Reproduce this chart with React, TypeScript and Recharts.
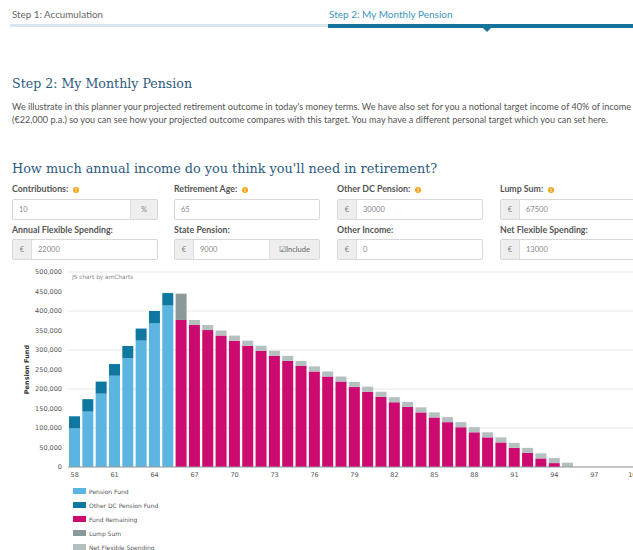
import { BarChart, Bar, XAxis, YAxis, CartesianGrid } from 'recharts';

const ages = [
  58, 59, 60, 61, 62, 63, 64, 65, 66, 67, 68, 69, 70, 71, 72, 73, 74, 75, 76, 77, 78, 79,
  80, 81, 82, 83, 84, 85, 86, 87, 88, 89, 90, 91, 92, 93, 94, 95, 96, 97, 98, 99, 100,
];

// ages 58-65
const pensionFund = [
  99000, 142000, 188000, 234000, 279000, 324000, 369000, 414000,
  0, 0, 0, 0, 0, 0, 0, 0, 0, 0, 0, 0, 0, 0, 0, 0, 0, 0, 0, 0, 0, 0, 0, 0, 0, 0, 0, 0, 0, 0, 0, 0, 0, 0, 0,
];
const otherDcFund = [
  31000, 32000, 31000, 30000, 31000, 31000, 31000, 32000,
  0, 0, 0, 0, 0, 0, 0, 0, 0, 0, 0, 0, 0, 0, 0, 0, 0, 0, 0, 0, 0, 0, 0, 0, 0, 0, 0, 0, 0, 0, 0, 0, 0, 0, 0,
];
// ages 66-94
const fundRemaining = [
  0, 0, 0, 0, 0, 0, 0, 0,
  377000, 364000, 351000, 337000, 324000, 311000, 298000, 285000, 272000, 259000,
  245000, 232000, 219000, 205000, 193000, 180000, 166000, 154000, 140000, 127000,
  115000, 102000, 89000, 76000, 63000, 49000, 36000, 22000, 10000,
  0, 0, 0, 0, 0, 0,
];
const lumpSum = [
  0, 0, 0, 0, 0, 0, 0, 0, 67500,
  0, 0, 0, 0, 0, 0, 0, 0, 0, 0, 0, 0, 0, 0, 0, 0, 0, 0, 0, 0, 0, 0, 0, 0, 0, 0, 0, 0, 0, 0, 0, 0, 0, 0,
];
// ages 67-95
const netFlexible = [
  0, 0, 0, 0, 0, 0, 0, 0, 0,
  13000, 13000, 13000, 13000, 13000, 13000, 13000, 13000, 13000, 13000, 13000, 13000, 13000, 13000,
  13000, 13000, 13000, 13000, 13000, 13000, 13000, 13000, 13000, 13000, 13000, 13000, 13000, 13000,
  11000, 0, 0, 0, 0, 0,
];

const yTicks = [0, 50000, 100000, 150000, 200000, 250000, 300000, 350000, 400000, 450000, 500000];

const series = [
  { key: 'pension', name: 'Pension Fund', color: '#5cb5e1' },
  { key: 'otherDc', name: 'Other DC Pension Fund', color: '#0f78a1' },
  { key: 'remaining', name: 'Fund Remaining', color: '#cc0a6f' },
  { key: 'lump', name: 'Lump Sum', color: '#8b999a' },
  { key: 'netFlex', name: 'Net Flexible Spending', color: '#b4bfc0' },
];

const data = ages.map((age, i) => ({
  age,
  pension: pensionFund[i],
  otherDc: otherDcFund[i],
  remaining: fundRemaining[i],
  lump: lumpSum[i],
  netFlex: netFlexible[i],
}));

const row1 = [
  { label: 'Contributions:', info: true, value: '10', suffix: '%' },
  { label: 'Retirement Age:', info: true, value: '65' },
  { label: 'Other DC Pension:', info: true, prefix: '€', value: '30000' },
  { label: 'Lump Sum:', info: true, prefix: '€', value: '67500' },
];
const row2 = [
  { label: 'Annual Flexible Spending:', prefix: '€', value: '22000' },
  { label: 'State Pension:', prefix: '€', value: '9000', include: true },
  { label: 'Other Income:', prefix: '€', value: '0' },
  { label: 'Net Flexible Spending:', prefix: '€', value: '13000' },
];
const cols = [12, 174, 337, 500];

const serif = '"DejaVu Serif", serif';
const sans = 'Lato, "Open Sans", sans-serif';
const chartFont = '"DejaVu Sans", Verdana, sans-serif';

function Field({ f, x, y, boxY }: any) {
  return (
    <>
      <div style={{ position: 'absolute', left: x, top: y, fontSize: 8.8, fontWeight: 700, color: '#555', whiteSpace: 'nowrap', lineHeight: '10px' }}>
        {f.label}
        {f.info && (
          <span style={{ display: 'inline-block', width: 6, height: 6, borderRadius: 3, background: '#f2a516', marginLeft: 5, verticalAlign: 'middle', color: '#fff', fontSize: 5, lineHeight: '6px', textAlign: 'center' }}>i</span>
        )}
      </div>
      <div style={{ position: 'absolute', left: x, top: boxY, width: 146, height: 21, border: '1px solid #d8d8d8', borderRadius: 2, boxSizing: 'border-box', display: 'flex', fontSize: 7.5, color: '#888', background: '#fff', overflow: 'hidden' }}>
        {f.prefix && (
          <div style={{ width: 18, background: '#eee', borderRight: '1px solid #ddd', display: 'flex', alignItems: 'center', justifyContent: 'center' }}>{f.prefix}</div>
        )}
        <div style={{ flex: 1, paddingLeft: 6, display: 'flex', alignItems: 'center' }}>{f.value}</div>
        {f.suffix && (
          <div style={{ width: 26, background: '#eee', borderLeft: '1px solid #ddd', display: 'flex', alignItems: 'center', justifyContent: 'center' }}>{f.suffix}</div>
        )}
        {f.include && (
          <div style={{ width: 49, background: '#eee', borderLeft: '1px solid #ddd', display: 'flex', alignItems: 'center', justifyContent: 'center', color: '#666' }}>☑Include</div>
        )}
      </div>
    </>
  );
}

export default function App() {
  return (
    <div style={{ position: 'absolute', left: 0, top: 0, width: 633, height: 550, overflow: 'hidden', background: '#fff', fontFamily: sans }}>
      <div style={{ position: 'absolute', left: 12, top: 8, fontSize: 9.8, color: '#666' }}>Step 1: Accumulation</div>
      <div style={{ position: 'absolute', left: 329, top: 8, fontSize: 10, color: '#3c94bd' }}>Step 2: My Monthly Pension</div>
      <div style={{ position: 'absolute', left: 10, top: 24, width: 318, height: 3, background: '#d6e8ee' }} />
      <div style={{ position: 'absolute', left: 328, top: 24, width: 305, height: 4, background: '#17739a' }} />
      <div style={{ position: 'absolute', left: 483, top: 28, width: 0, height: 0, borderLeft: '4px solid transparent', borderRight: '4px solid transparent', borderTop: '4px solid #17739a' }} />

      <div style={{ position: 'absolute', left: 12, top: 76, fontSize: 12.6, lineHeight: '16px', fontFamily: serif, color: '#2b5a80', whiteSpace: 'nowrap' }}>Step 2: My Monthly Pension</div>
      <div style={{ position: 'absolute', left: 12, top: 100, fontSize: 9.1, lineHeight: '13px', color: '#555', whiteSpace: 'nowrap' }}>
        We illustrate in this planner your projected retirement outcome in today's money terms. We have also set for you a notional target income of 40% of income
        <br />
        (€22,000 p.a.) so you can see how your projected outcome compares with this target. You may have a different personal target which you can set here.
      </div>
      <div style={{ position: 'absolute', left: 12, top: 161, fontSize: 12.8, lineHeight: '16px', fontFamily: serif, color: '#2b5a80', whiteSpace: 'nowrap' }}>How much annual income do you think you'll need in retirement?</div>

      {row1.map((f, i) => <Field key={f.label} f={f} x={cols[i]} y={184} boxY={199} />)}
      {row2.map((f, i) => <Field key={f.label} f={f} x={cols[i]} y={225} boxY={239} />)}

      <div style={{ position: 'absolute', left: 0, top: 267 }}>
        <BarChart width={641} height={225} data={data} margin={{ top: 5, right: 0, left: 0, bottom: 0 }} barSize={11}>
          <CartesianGrid vertical={false} stroke="#e8e8e8" />
          <XAxis
            dataKey="age"
            interval={2}
            tickLine={false}
            tickSize={0}
            tickMargin={5}
            height={25}
            axisLine={{ stroke: '#999' }}
            tick={{ fontSize: 6.5, fill: '#555', fontFamily: chartFont }}
          />
          <YAxis
            width={68}
            domain={[0, 500000]}
            ticks={yTicks}
            tickFormatter={(v: number) => v.toLocaleString('en-US')}
            axisLine={false}
            tickLine={false}
            tickSize={0}
            tickMargin={6}
            tick={{ fontSize: 6.5, fill: '#555', fontFamily: chartFont }}
            label={{
              content: (p: any) => {
                const vb = p.viewBox;
                const cx = vb.x + 27;
                const cy = vb.y + vb.height / 2;
                return (
                  <text x={cx} y={cy} transform={`rotate(-90 ${cx} ${cy})`} textAnchor="middle" dominantBaseline="central" fontSize={6.5} fontWeight="bold" fill="#333" fontFamily={chartFont}>
                    Pension Fund
                  </text>
                );
              },
            }}
          />
          {series.map((s) => (
            <Bar key={s.key} dataKey={s.key} name={s.name} stackId="a" fill={s.color} isAnimationActive={false} />
          ))}
        </BarChart>
      </div>
      <div style={{ position: 'absolute', left: 72, top: 274, fontSize: 5.8, color: '#888', fontFamily: chartFont }}>JS chart by amCharts</div>

      {series.map((s, i) => (
        <div key={s.key} style={{ position: 'absolute', left: 73, top: 487 + i * 14, height: 8, display: 'flex', alignItems: 'center', fontSize: 6, color: '#555', fontFamily: chartFont, whiteSpace: 'nowrap' }}>
          <span style={{ display: 'inline-block', width: 13, height: 6, background: s.color, marginRight: 3 }} />
          {s.name}
        </div>
      ))}
    </div>
  );
}
